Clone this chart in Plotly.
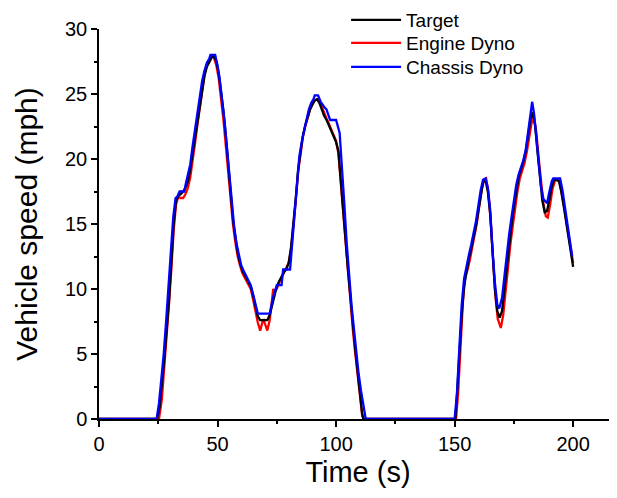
import plotly.graph_objects as go

# ---- data ----
target_t = [0, 24.5, 25.5, 26.5, 27.5, 28.5, 29.5, 30.5, 31.5, 32.5, 33.5, 34.5, 35.5, 36.5, 37.5, 38.5,
            39.5, 40.5, 41.5, 42.5, 43.5, 44.5, 45.5, 46.5, 47.5, 48.5, 49.5, 50.5, 51.5, 52.5, 53.5,
            54.5, 55.5, 56.5, 57.5, 58.5, 59.5, 60.5, 62, 63, 64, 65, 66, 67, 68, 69, 70, 71, 72, 73,
            74, 75, 76, 77, 78, 79, 80, 81, 82, 83, 84, 85, 86, 87, 88, 89, 90, 91, 92, 93, 94, 95,
            96, 97, 98, 99, 100, 101, 102, 103, 104, 105, 106, 107, 108, 109, 110, 111, 111.5,
            150.3, 151, 152, 153, 154, 155, 156, 157, 158, 159, 160, 161, 162, 163, 164, 165, 166,
            167, 168, 169, 170, 171, 172, 173, 174, 175, 176, 177, 178, 179, 180, 181, 182, 183,
            184, 185, 186, 187, 188, 189, 190, 191, 192, 193, 194, 195, 196, 197, 198, 199, 200]
target_v = [0, 0, 0.8, 2.5, 4.5, 6.8, 9.0, 12.0, 15.0, 16.8, 17.2, 17.3, 17.5, 17.8, 18.3, 19.2,
            20.3, 21.5, 22.8, 24.0, 25.2, 26.4, 27.1, 27.5, 27.8, 27.9, 27.5, 26.6, 25.3, 23.7, 21.8,
            19.6, 17.4, 15.4, 14.0, 12.8, 12.0, 11.4, 10.9, 10.6, 10.2, 9.5, 8.6, 7.9, 7.6, 7.6, 7.6,
            7.6, 8.0, 8.8, 9.6, 10.2, 10.6, 11.0, 11.3, 11.5, 12.0, 13.2, 15.0, 17.0, 19.2, 20.6,
            21.8, 22.6, 23.3, 23.8, 24.2, 24.5, 24.6, 24.3, 23.8, 23.3, 23.0, 22.6, 22.2, 21.8, 21.3,
            20.6, 18.5, 16.5, 13.8, 11.5, 9.2, 7.5, 5.5, 3.8, 2.0, 0.4, 0,
            0, 1.8, 5.0, 8.0, 10.2, 11.4, 12.3, 13.1, 14.0, 14.8, 16.0, 17.3, 18.2, 18.4, 17.5, 15.8,
            12.8, 10.0, 8.3, 7.8, 8.3, 10.0, 11.8, 13.5, 14.9, 16.3, 17.6, 18.6, 19.2, 19.8, 20.6,
            21.8, 23.0, 23.6, 22.5, 20.5, 18.5, 16.8, 15.9, 16.0, 16.9, 17.9, 18.4, 18.4, 18.3,
            17.5, 16.4, 15.2, 14.0, 12.8, 11.7]

engine_t = [0, 25.3, 26.5, 27.5, 28.5, 29.5, 30.5, 31.5, 32.5, 33.5, 34.5, 35.5, 36.5, 37.5, 38.5,
            39.5, 40.5, 41.5, 42.5, 43.5, 44.5, 45.5, 46.5, 47.5, 48.5, 49.5, 50.5, 51.5, 52.5, 53.5,
            54.5, 55.5, 56.5, 57.5, 58.5, 59.5, 60.5, 62, 63, 64, 65, 66, 67, 68, 69, 69.5, 70, 71,
            72, 73, 73.5, 74, 75, 76, 77, 78, 79, 80, 81, 82, 83, 84, 85, 86, 87, 88, 89, 90, 91,
            92, 93, 94, 95, 96, 97, 98, 99, 100, 101, 102, 103, 104, 105, 106, 107, 108, 109, 110,
            111, 111.6,
            150.6, 151.5, 152.5, 153.5, 154.5, 155.5, 156.5, 157.5, 158.5, 159.5, 160.5, 161.5,
            162.5, 163.3, 164.2, 165.2, 166.2, 167.2, 168.2, 169.5, 170.5, 171.5, 172.5, 173.5,
            174.5, 175.5, 176.5, 177.5, 178.5, 179.5, 180.5, 181.5, 182.5, 183.5, 184.5, 185.5,
            186.5, 187.5, 188.5, 189.3, 190.3, 191.3, 192.3, 193.3, 194.3, 195.3, 196.3, 197.3,
            198.3, 199.3, 200]
engine_v = [0, 0, 1.5, 3.8, 6.5, 8.8, 11.5, 14.5, 16.5, 17.1, 17.0, 17.0, 17.3, 17.8, 18.6,
            19.8, 21.2, 22.6, 24.0, 25.3, 26.5, 27.2, 27.6, 27.9, 27.8, 27.2, 26.2, 24.8, 23.0, 21.0,
            18.8, 16.6, 15.0, 13.6, 12.5, 11.8, 11.2, 10.7, 10.4, 10.0, 9.2, 8.2, 7.4, 6.8, 7.5, 7.6,
            7.3, 6.8, 7.6, 9.0, 10.0, 9.8, 10.0, 10.5, 10.9, 11.3, 11.6, 12.0, 13.0, 14.8, 16.8,
            19.0, 20.5, 21.7, 22.5, 23.2, 23.8, 24.2, 24.5, 24.6, 24.4, 24.0, 23.5, 23.1, 22.7,
            22.3, 21.9, 21.4, 20.4, 18.2, 16.0, 13.4, 11.0, 8.8, 7.0, 5.2, 3.4, 1.8, 0.3, 0,
            0, 2.0, 5.5, 9.0, 11.0, 11.5, 12.3, 13.2, 14.2, 15.2, 16.5, 17.7, 18.4, 18.5, 17.5, 15.3,
            12.3, 9.5, 7.7, 7.0, 8.0, 10.0, 11.8, 13.4, 14.8, 16.2, 17.5, 18.5, 19.1, 19.7, 20.6,
            21.8, 22.8, 23.2, 22.0, 20.0, 18.0, 16.5, 15.6, 15.5, 16.5, 17.7, 18.3, 18.4, 18.2,
            17.3, 16.2, 15.0, 13.9, 12.8, 12.0]

chassis_t = [0, 24.3, 25.3, 26.3, 27.3, 28.3, 29.3, 30.3, 31.3, 32.3, 33, 34, 36, 36.5, 37.5, 38.5,
             39.5, 40.5, 41.5, 42.5, 43.5, 44.5, 45.5, 46.5, 47, 49, 50, 51, 52, 53, 54, 55, 56, 57,
             58, 59, 60, 61, 62, 63, 64, 65, 66, 67, 72, 73, 73.5, 75, 77, 77.7, 80.6, 81.5, 82.5,
             83.5, 84.5, 85.5, 86.5, 87.5, 88.5, 89.5, 90.5, 91, 92.4, 93.5, 95, 96, 97.5, 100,
             101.5, 102.5, 103.5, 104.5, 105.5, 106.5, 107.5, 108.5, 109.5, 110.5, 111.5, 112.5,
             150, 151, 152, 153, 154, 155, 156, 157, 158, 159, 160, 161, 162, 163, 164, 165, 166,
             167, 168, 168.8, 170, 171, 172, 173, 174, 175, 176, 177, 178, 179, 180, 181, 182,
             182.7, 183.5, 184.5, 185.5, 186.5, 187.5, 189, 190, 191, 191.6, 194.5, 195.5, 196.6,
             197.5, 198.7, 199.6]
chassis_v = [0, 0, 1.2, 3.0, 5.0, 7.5, 10.0, 13.0, 15.5, 17.0, 17.1, 17.5, 17.5, 18.0, 18.7, 19.6,
             21.0, 22.3, 23.5, 24.8, 26.0, 26.8, 27.4, 27.7, 28.0, 28.0, 27.2, 26.0, 24.6, 22.8,
             20.8, 18.8, 16.7, 14.8, 13.5, 12.5, 11.8, 11.4, 11.0, 10.7, 10.3, 9.6, 8.8, 8.1, 8.1,
             9.0, 9.4, 10.3, 10.3, 11.5, 11.5, 13.5, 15.6, 18.0, 20.2, 21.3, 22.3, 23.0, 23.8, 24.3,
             24.6, 24.9, 24.9, 24.4, 24.0, 23.8, 23.0, 23.0, 22.0, 19.5, 16.5, 13.5, 11.0, 8.8, 7.0,
             5.2, 3.5, 2.2, 1.0, 0,
             0, 2.0, 5.5, 8.8, 10.8, 11.8, 12.6, 13.4, 14.3, 15.2, 16.4, 17.6, 18.4, 18.5, 17.8,
             16.1, 13.0, 10.5, 8.8, 8.5, 9.3, 11.0, 12.6, 14.2, 15.5, 16.9, 18.0, 18.8, 19.3, 19.9,
             20.7, 22.0, 23.6, 24.4, 23.5, 21.5, 19.5, 17.8, 16.9, 16.6, 17.5, 18.3, 18.5, 18.5,
             17.6, 16.3, 15.0, 13.5, 12.5]

x_ticks = [0, 50, 100, 150, 200]
y_ticks = [0, 5, 10, 15, 20, 25, 30]

FONT = "Liberation Sans, Arial, sans-serif"

fig = go.Figure()
fig.add_trace(go.Scatter(x=engine_t, y=engine_v, mode="lines", name="Engine Dyno",
                         line=dict(color="#ff0000", width=2.3), legend="legend2"))
fig.add_trace(go.Scatter(x=target_t, y=target_v, mode="lines", name="Target",
                         line=dict(color="#000000", width=2.3), legend="legend"))
fig.add_trace(go.Scatter(x=chassis_t, y=chassis_v, mode="lines", name="Chassis Dyno",
                         line=dict(color="#0000ff", width=2.3), legend="legend3"))

leg_common = dict(x=0.477, xanchor="left", yanchor="middle", yref="container",
                  bgcolor="rgba(0,0,0,0)",
                  font=dict(size=19, family=FONT, color="black"), itemwidth=50)

fig.update_layout(
    width=609, height=490,
    margin=dict(l=91, r=0, t=21, b=79, autoexpand=False),
    paper_bgcolor="white", plot_bgcolor="white",
    font=dict(family=FONT, color="black"),
    showlegend=True,
    legend=dict(y=0.9755, **leg_common),
    legend2=dict(y=0.9286, **leg_common),
    legend3=dict(y=0.8796, **leg_common),
    xaxis=dict(range=[0, 218.5], tickvals=x_ticks, ticktext=[str(v) for v in x_ticks],
               automargin=False,
               showgrid=False, zeroline=False, showline=True, linecolor="black", linewidth=1.5,
               ticks="outside", ticklen=6, tickwidth=1.5, tickcolor="black",
               minor=dict(tickvals=[25, 75, 125, 175], ticks="outside", ticklen=3,
                          tickwidth=1.5, tickcolor="black"),
               tickfont=dict(size=20, family=FONT),
               title=dict(text="Time (s)", font=dict(size=29, family=FONT), standoff=8)),
    yaxis=dict(range=[0, 30], tickvals=y_ticks, ticktext=[str(v) for v in y_ticks],
               automargin=False,
               showgrid=False, zeroline=False, showline=True, linecolor="black", linewidth=1.5,
               ticks="outside", ticklen=6, tickwidth=1.5, tickcolor="black",
               minor=dict(tickvals=[2.5, 7.5, 12.5, 17.5, 22.5, 27.5], ticks="outside", ticklen=3,
                          tickwidth=1.5, tickcolor="black"),
               tickfont=dict(size=20, family=FONT),
               title=dict(text="Vehicle speed (mph)", font=dict(size=30, family=FONT), standoff=19)),
)

fig.write_html("out.html")
